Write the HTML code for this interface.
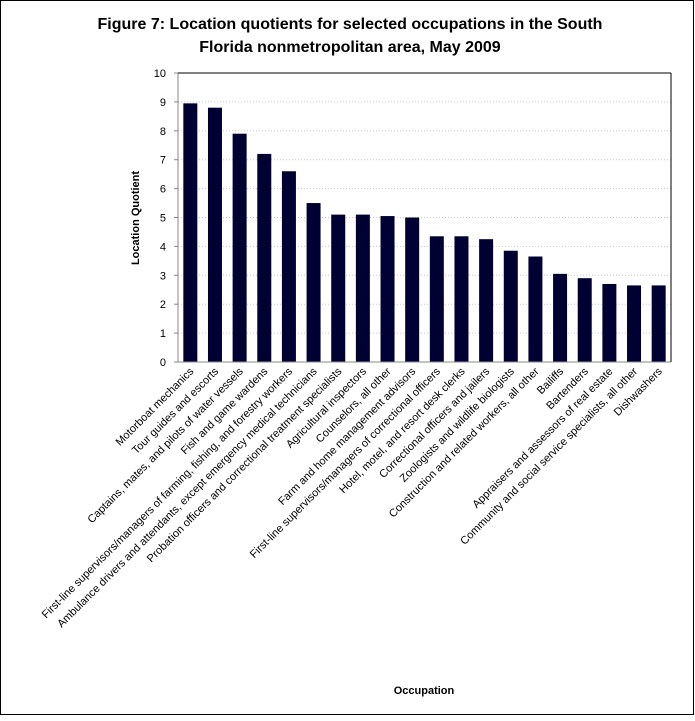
<!DOCTYPE html>
<html><head><meta charset="utf-8"><style>
body{margin:0;background:#fff;font-family:"Liberation Sans",sans-serif}
#wrap{position:relative;width:695px;height:716px}
</style></head><body>
<div id="wrap">
<svg id="chart" width="695" height="716" xmlns="http://www.w3.org/2000/svg">
<rect x="0.5" y="0.5" width="693" height="714" fill="#fff" stroke="#000"/>
<text x="350" y="29" text-anchor="middle" font-size="16" font-weight="bold">Figure 7:  Location quotients for selected occupations in the South</text>
<text x="350" y="52" text-anchor="middle" font-size="16" font-weight="bold">Florida nonmetropolitan area, May 2009</text>
<text transform="translate(139,218) rotate(-90)" text-anchor="middle" font-size="11" font-weight="bold">Location Quotient</text>
<text x="424" y="694" text-anchor="middle" font-size="11" font-weight="bold">Occupation</text>
<g id="g"></g>
</svg>
</div>
<script>
const categories=["Motorboat mechanics","Tour guides and escorts","Captains, mates, and pilots of water vessels","Fish and game wardens","First-line supervisors/managers of farming, fishing, and forestry workers","Ambulance drivers and attendants, except emergency medical technicians","Probation officers and correctional treatment specialists","Agricultural inspectors","Counselors, all other","Farm and home management advisors","First-line supervisors/managers of correctional officers","Hotel, motel, and resort desk clerks","Correctional officers and jailers","Zoologists and wildlife biologists","Construction and related workers, all other","Bailiffs","Bartenders","Appraisers and assessors of real estate","Community and social service specialists, all other","Dishwashers"];
const values=[8.95,8.8,7.9,7.2,6.6,5.5,5.1,5.1,5.05,5.0,4.35,4.35,4.25,3.85,3.65,3.05,2.9,2.7,2.65,2.65];
const yTicks=[0,1,2,3,4,5,6,7,8,9,10];
const NS="http://www.w3.org/2000/svg";
const g=document.getElementById('g');
const L=178,R=671,T=73,B=362,yMax=10;
const y=v=>B-(v/yMax)*(B-T);
const step=(R-L)/categories.length;
const x=i=>L+i*step;
function mk(t,a){const e=document.createElementNS(NS,t);for(const k in a)e.setAttribute(k,a[k]);g.appendChild(e);return e;}
yTicks.forEach(t=>{
  if(t>0&&t<10){const l=mk('line',{x1:L,x2:R,y1:y(t),y2:y(t),stroke:'#c8c8c8','stroke-dasharray':'1,2'});
  
  }
  const tk=mk('line',{x1:L-4,x2:L,y1:y(t),y2:y(t),stroke:'#888'});
  
  
  const tx=mk('text',{x:L-12,y:y(t)+4,'text-anchor':'end','font-size':'11'});
  tx.textContent=t;
  
  
});
values.forEach((v,i)=>{
  const r=mk('rect',{x:x(i)+(step-14)/2,y:y(v),width:14,height:B-y(v),fill:'#000033'});
  
  
  const cx=x(i)+step/2;
  const t=mk('text',{transform:`translate(${cx+4},${B+10}) rotate(-45)`,'text-anchor':'end','font-size':'11'});
  t.textContent=categories[i];
  
  
});
const ya=mk('line',{x1:L,x2:L,y1:T,y2:B,stroke:'#888'});


const xa=mk('line',{x1:L,x2:R,y1:B,y2:B,stroke:'#888'});


const topBorder=mk('line',{x1:L,x2:R,y1:T,y2:T,stroke:'#000'});


const rightBorder=mk('line',{x1:R,x2:R,y1:T,y2:B,stroke:'#000'});


</script>
</body></html>
